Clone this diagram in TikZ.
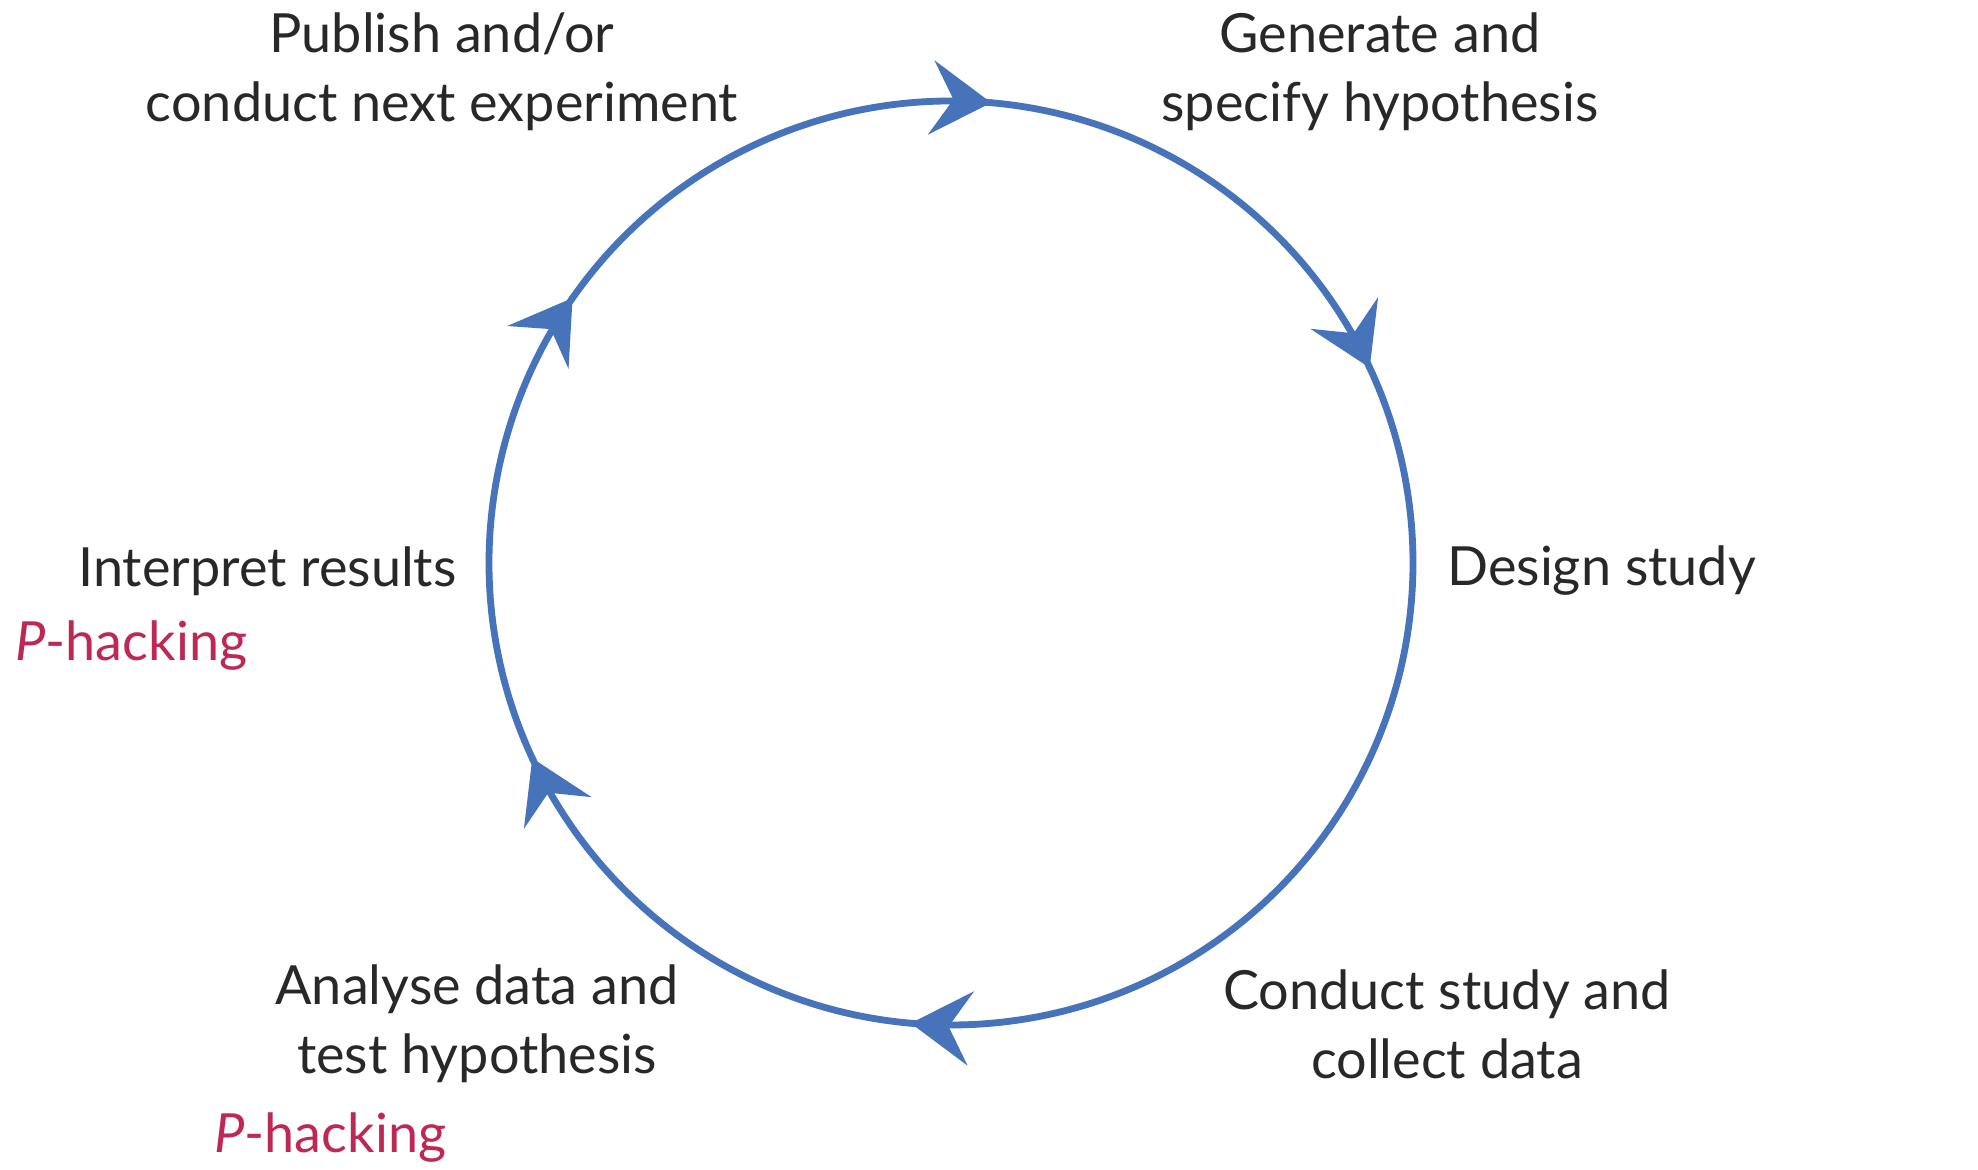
\documentclass[tikz,border=0pt]{standalone}
\usepackage{fontspec}
\setmainfont{Lato}
\usetikzlibrary{arrows.meta,decorations.markings}
\definecolor{cycblue}{RGB}{70,115,185}
\definecolor{phred}{RGB}{190,40,85}
\definecolor{txt}{RGB}{40,40,40}
\begin{document}
\begin{tikzpicture}[x=0.5pt,y=0.5pt,
  lbl/.style={text=txt,font=\fontsize{27}{34.5}\selectfont,align=center,inner sep=0pt},
  phk/.style={text=phred,font=\fontsize{27}{34.5}\selectfont,inner sep=0pt},
  ring/.style={draw=cycblue,line width=3.4pt,line cap=round},
  cyc/.style={ring,postaction={decorate},decoration={markings,
     mark=at position 1 with {\arrow[cycblue]{Stealth[length=30pt,width=37pt,inset=11pt]}}}}]
\useasboundingbox[fill=white] (0,0) rectangle (1978,1170);
\coordinate (C) at (951,607);
\foreach \a/\n in {85/t1,25/t2,-35/t3,-95/t4,-155/t5,145/t6}{
  \path (C) ++(\a:462) coordinate (\n);
}
\draw[cyc] (t6) arc[start angle=145,end angle=85,radius=462];
\draw[cyc] (t1) arc[start angle=85,end angle=25,radius=462];
\draw[cyc] (t2) arc[start angle=25,end angle=-35,radius=462];
\draw[cyc] (t3) arc[start angle=-35,end angle=-95,radius=462];
\draw[cyc] (t4) arc[start angle=-95,end angle=-155,radius=462];
\draw[cyc] (t5) arc[start angle=205,end angle=145,radius=462];
\node[lbl] (pub) at (442,1098) {Publish and/or\\conduct next experiment};
\node[lbl] (gen) at (1380,1098) {Generate and\\specify hypothesis};
\node[lbl,anchor=west] (des) at (1447,599) {Design study};
\node[lbl,anchor=east] (int) at (457,599) {Interpret results};
\node[phk,anchor=west] (ph1) at (15,524) {\textit{P}-hacking};
\node[lbl] (con) at (1447,146) {Conduct study and\\collect data};
\node[lbl] (ana) at (477,146) {Analyse data and\\test hypothesis};
\node[phk,anchor=west] (ph2) at (214,32) {\textit{P}-hacking};
\end{tikzpicture}
\end{document}
